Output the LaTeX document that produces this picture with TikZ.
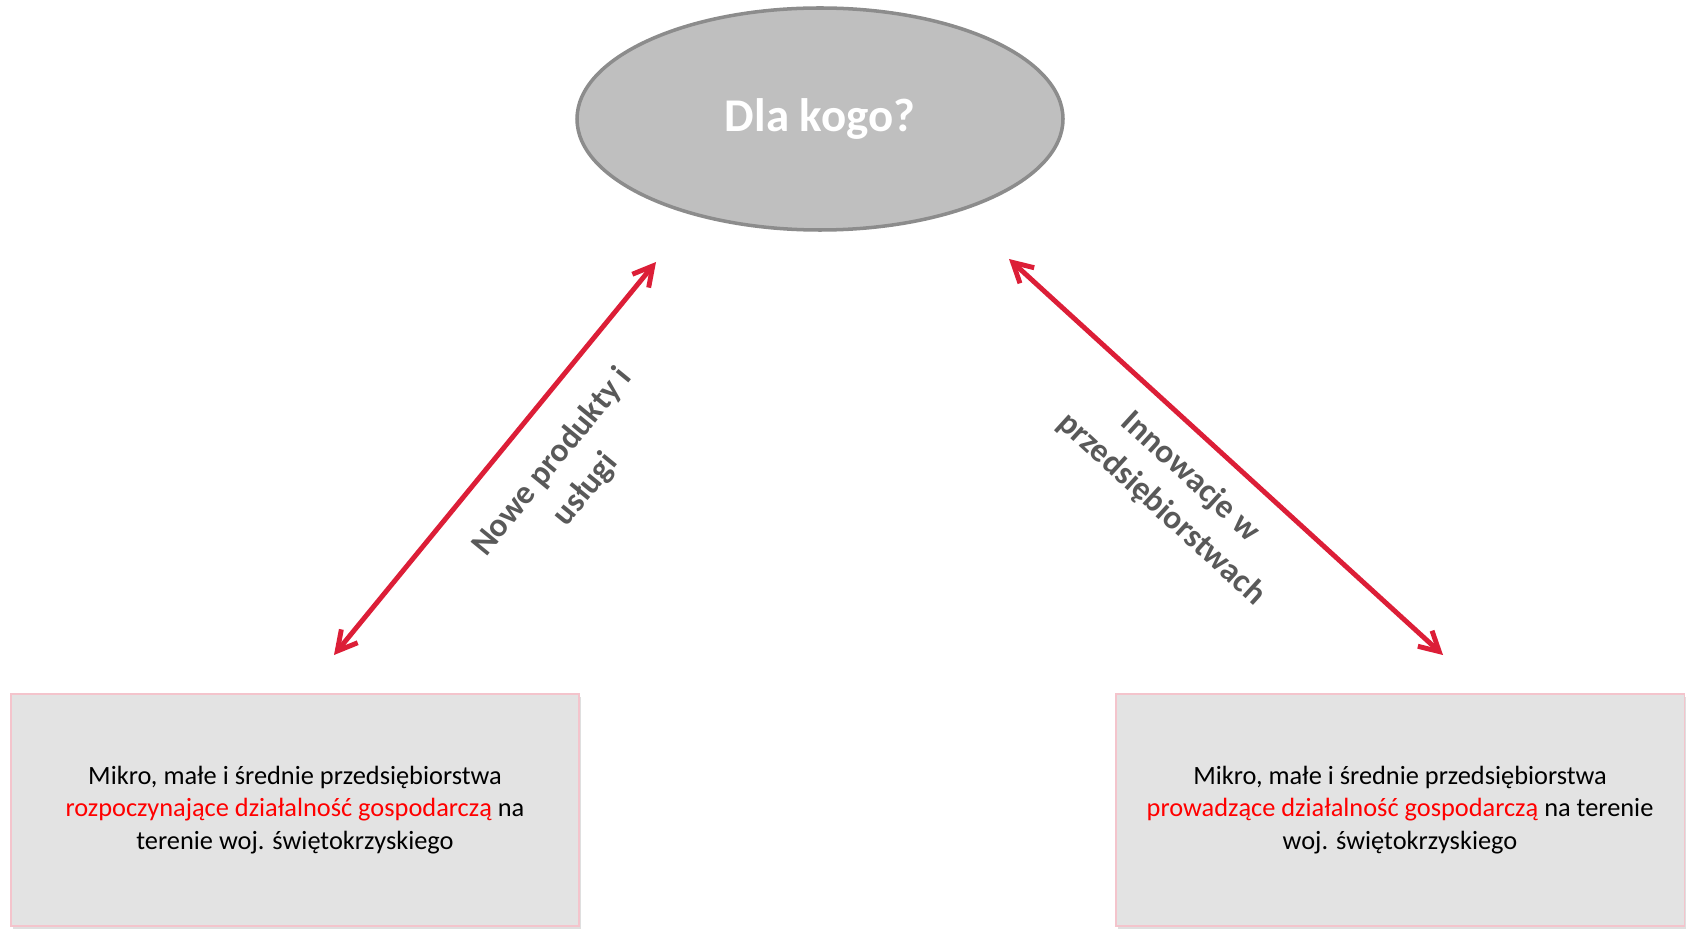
\documentclass[tikz,border=0pt]{standalone}
\usepackage{fontspec}
\setmainfont{Carlito}
\usepackage{xcolor}
\usepackage{tikz}
\usetikzlibrary{arrows.meta,shapes.geometric,shadows}

\definecolor{strzalka}{RGB}{220,30,55}
\definecolor{szaryTekst}{RGB}{89,89,89}
\definecolor{ramka}{RGB}{244,196,204}

\tikzset{
  firma/.style={draw=ramka, line width=0.6pt, fill=black!11, minimum width=11.36cm,
    minimum height=4.64cm, align=center, font=\fontsize{15}{18.6}\selectfont,
    drop shadow={opacity=0.25, shadow xshift=0.04cm, shadow yshift=-0.05cm}},
  dwustr/.style={strzalka, line width=2.8pt,
    {Straight Barb[length=11pt,width=12pt]}-{Straight Barb[length=11pt,width=12pt]}},
  etykieta/.style={text=szaryTekst, align=center, font=\bfseries\fontsize{19}{24.6}\selectfont}
}

\begin{document}
\begin{tikzpicture}
\useasboundingbox (0,0) rectangle (33.84,18.58);

% Question
\node[ellipse, draw=black!45, line width=2pt, fill=black!25, minimum width=9.72cm,
  minimum height=4.44cm, text=white, font=\bfseries\fontsize{26.7}{32}\selectfont]
  (kogo) at (16.40,16.20) {Dla kogo?};

% Target groups
\node[firma] (rozp) at (5.90,2.38) {Mikro, małe i średnie przedsiębiorstwa\\
  \textcolor{red}{rozpoczynające działalność gospodarczą} na\\
  terenie woj. świętokrzyskiego};
\node[firma] (prow) at (28.00,2.38) {Mikro, małe i średnie przedsiębiorstwa\\
  \textcolor{red}{prowadzące działalność gospodarczą} na terenie\\
  woj. świętokrzyskiego};

% Arrow ends
\coordinate (nA) at (6.68,5.48);
\coordinate (nB) at (13.12,13.34);
\coordinate (iA) at (20.18,13.40);
\coordinate (iB) at (28.86,5.48);

% Arrows
\draw[dwustr] (nA) -- (nB);
\draw[dwustr] (iA) -- (iB);

% Labels
\node[etykieta, rotate=50.7] (nowe) at (11.38,9.06) {Nowe produkty i\\usługi};
\node[etykieta, rotate=-42.4] (innow) at (23.52,8.72) {Innowacje w\\przedsiębiorstwach};
\end{tikzpicture}
\end{document}
